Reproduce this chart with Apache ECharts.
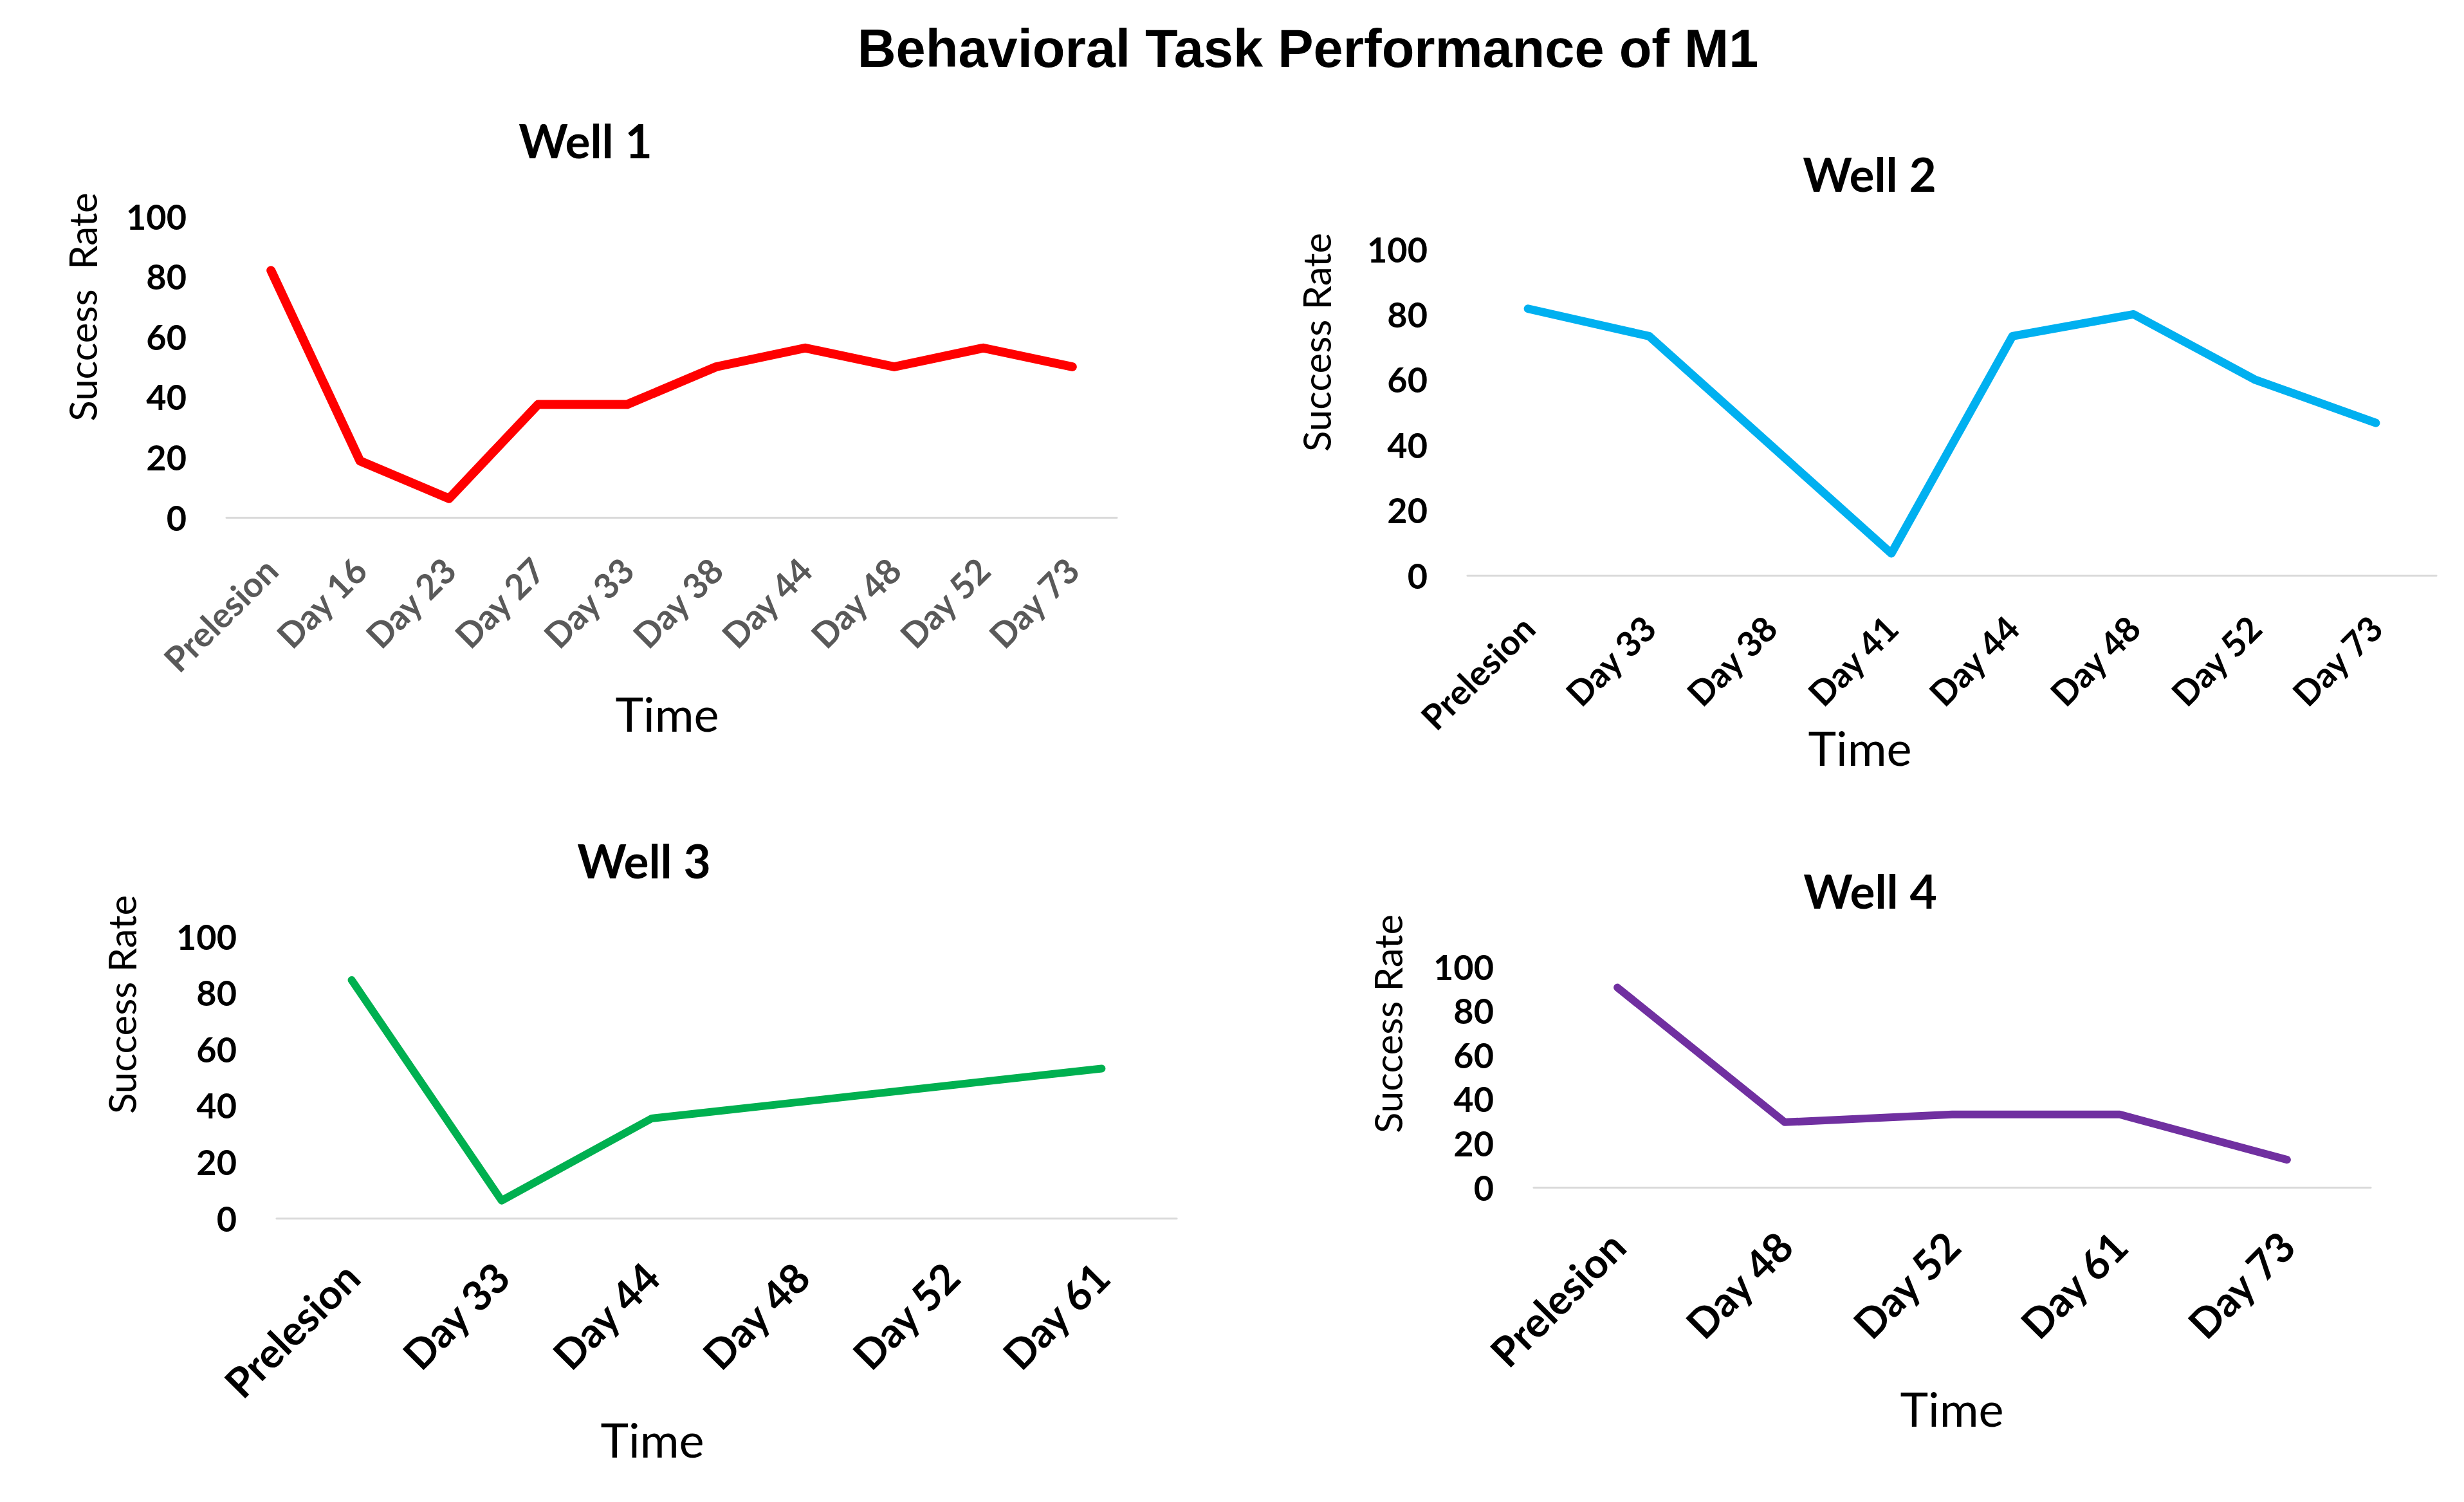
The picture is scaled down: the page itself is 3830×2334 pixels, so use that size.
<!DOCTYPE html>
<html>
<head>
<meta charset="utf-8">
<script src="https://cdn.jsdelivr.net/npm/echarts@6/dist/echarts.min.js"></script>
<style>
html,body{margin:0;padding:0;background:#fff;}
#chart{width:3830px;height:2334px;}
</style>
</head>
<body>
<div id="chart"></div>
<script>
// ---- Data ----
const mainTitle = 'Behavioral Task Performance of M1';
const panelTitles = ['Well 1', 'Well 2', 'Well 3', 'Well 4'];
const yTitles = ['Success  Rate', 'Success Rate', 'Success Rate', 'Success Rate'];
const xTitle = 'Time';

const well1Categories = ['Prelesion', 'Day 16', 'Day 23', 'Day 27', 'Day 33', 'Day 38', 'Day 44', 'Day 48', 'Day 52', 'Day 73'];
const well1Values = [82, 18.75, 6.25, 37.5, 37.5, 50, 56.25, 50, 56.25, 50];

const well2Categories = ['Prelesion', 'Day 33', 'Day 38', 'Day 41', 'Day 44', 'Day 48', 'Day 52', 'Day 73'];
const well2Values = [81.7, 73.3, 40, 6.7, 73.3, 80, 60, 46.7];

const well3Categories = ['Prelesion', 'Day 33', 'Day 44', 'Day 48', 'Day 52', 'Day 61'];
const well3Values = [84.5, 6.25, 35.4, 41.3, 47.2, 53.1];

const well4Categories = ['Prelesion', 'Day 48', 'Day 52', 'Day 61', 'Day 73'];
const well4Values = [90.5, 29.5, 33, 33, 12.5];

const yTicks = [0, 20, 40, 60, 80, 100];

// ---- Layout / style ----
const calFont = 'Lato, "Open Sans", "Noto Sans", sans-serif';
const panels = [
  { cats: well1Categories, vals: well1Values, color: '#FF0000', lw: 14,
    grid: { left: 352, top: 336, width: 1384, height: 468 },
    labelColor: '#595959', labelSize: 54, labelMargin: 72,
    title: [910, 218], ytitle: [128, 477], xtitle: [1037, 1108] },
  { cats: well2Categories, vals: well2Values, color: '#00B0F0', lw: 13,
    grid: { left: 2281, top: 387, width: 1506, height: 507 },
    labelColor: '#000000', labelSize: 54, labelMargin: 72,
    title: [2906, 270], ytitle: [2046, 532], xtitle: [2891, 1161] },
  { cats: well3Categories, vals: well3Values, color: '#00B050', lw: 12,
    grid: { left: 430, top: 1455, width: 1399, height: 438 },
    labelColor: '#000000', labelSize: 64, labelMargin: 80,
    title: [1001, 1337], ytitle: [189, 1561], xtitle: [1014, 2236] },
  { cats: well4Categories, vals: well4Values, color: '#7030A0', lw: 12,
    grid: { left: 2384, top: 1502, width: 1301, height: 343 },
    labelColor: '#000000', labelSize: 64, labelMargin: 80,
    title: [2907, 1384], ytitle: [2157, 1591], xtitle: [3034, 2188] }
];

const grids = [], xAxes = [], yAxes = [], series = [], graphics = [];

graphics.push({
  type: 'text', x: 2033, y: 75,
  style: { text: mainTitle, font: 'bold 83px "Liberation Sans", Arial, sans-serif',
           fill: '#000', textAlign: 'center', textVerticalAlign: 'middle' }
});

panels.forEach((p, i) => {
  grids.push(Object.assign({ containLabel: false }, p.grid));
  xAxes.push({
    type: 'category', gridIndex: i, data: p.cats, boundaryGap: true,
    axisLine: { show: true, lineStyle: { color: '#D9D9D9', width: 3 } },
    axisTick: { show: false },
    splitLine: { show: false },
    axisLabel: { rotate: 45, interval: 0, margin: p.labelMargin, color: p.labelColor,
                 fontFamily: calFont, fontWeight: 'bold', fontStyle: 'normal', fontSize: p.labelSize }
  });
  yAxes.push({
    type: 'value', gridIndex: i, min: yTicks[0], max: yTicks[yTicks.length - 1],
    interval: yTicks[1] - yTicks[0],
    axisLine: { show: false }, axisTick: { show: false }, splitLine: { show: false },
    axisLabel: { margin: 62, color: '#000', fontFamily: calFont, fontWeight: 'bold', fontSize: 54 }
  });
  series.push({
    type: 'line', xAxisIndex: i, yAxisIndex: i, data: p.vals,
    showSymbol: false, symbol: 'none', smooth: false,
    lineStyle: { color: p.color, width: p.lw, cap: 'round', join: 'round' },
    itemStyle: { color: p.color }, animation: false
  });
  graphics.push({
    type: 'text', x: p.title[0], y: p.title[1],
    style: { text: panelTitles[i], font: 'bold 73px ' + calFont, fill: '#000',
             textAlign: 'center', textVerticalAlign: 'middle' }
  });
  graphics.push({
    type: 'text', x: p.ytitle[0], y: p.ytitle[1], rotation: Math.PI / 2,
    style: { text: yTitles[i], font: '60px ' + calFont, fill: '#000',
             textAlign: 'center', textVerticalAlign: 'middle' }
  });
  graphics.push({
    type: 'text', x: p.xtitle[0], y: p.xtitle[1],
    style: { text: xTitle, font: '74px ' + calFont, fill: '#000',
             textAlign: 'center', textVerticalAlign: 'middle' }
  });
});

const chart = echarts.init(document.getElementById('chart'), null, { renderer: 'svg', width: 3830, height: 2334 });
chart.setOption({
  backgroundColor: '#FFFFFF',
  animation: false,
  grid: grids,
  xAxis: xAxes,
  yAxis: yAxes,
  series: series,
  graphic: { elements: graphics }
});
</script>
</body>
</html>
